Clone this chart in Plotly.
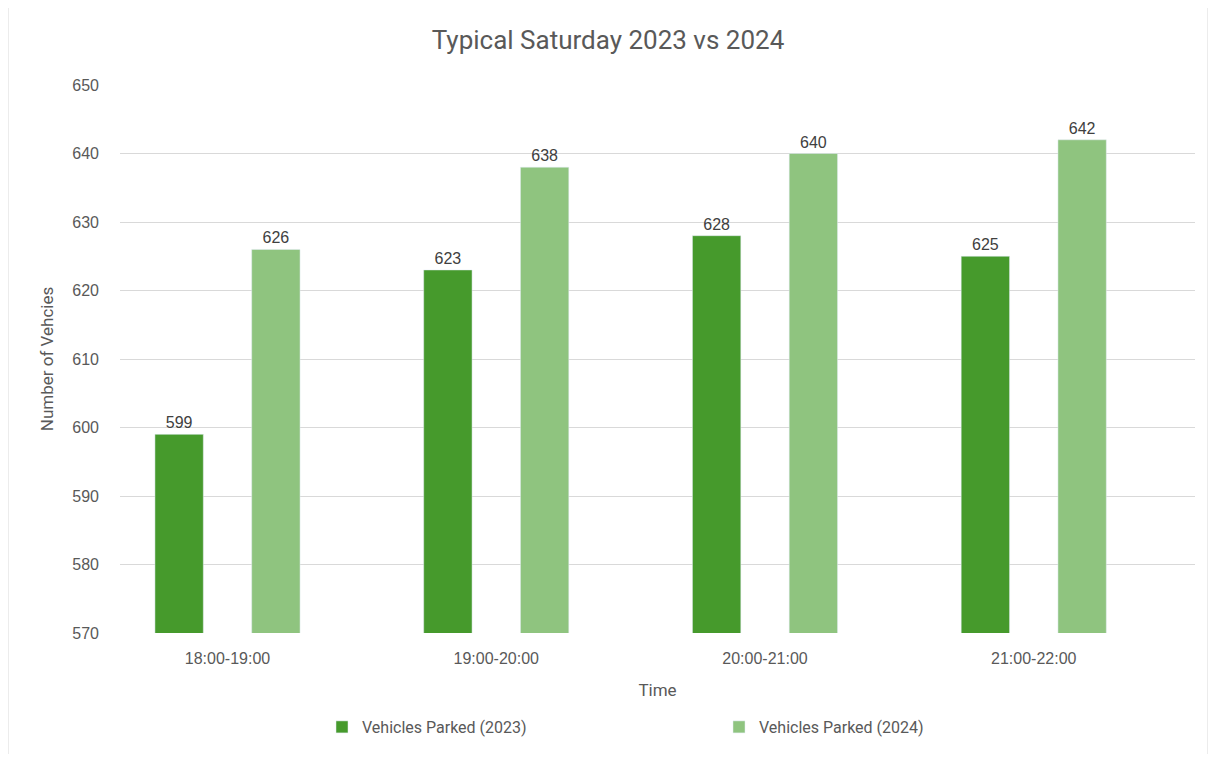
import plotly.graph_objects as go

categories = ["18:00-19:00", "19:00-20:00", "20:00-21:00", "21:00-22:00"]
parked_2023 = [599, 623, 628, 625]
parked_2024 = [626, 638, 640, 642]
y_ticks = [570, 580, 590, 600, 610, 620, 630, 640, 650]

# page body has an 8px margin; compensate so plot area lands at screen 120..1195 x 85..633
W, H = 1200, 746
L, R, T, B = 112, 13, 77, 121
PW, PH = W - L - R, H - T - B
OFF = 8


def px_x(sx):
    return (sx - OFF - L) / PW


def px_y(sy):
    return (H - B - (sy - OFF)) / PH


label_font = dict(family="Liberation Sans, Arial", size=16, color="#404040")

fig = go.Figure()
fig.add_trace(go.Bar(
    x=categories, y=parked_2023, name="Vehicles Parked (2023)",
    marker=dict(color="#469a2c"),
    text=parked_2023, textposition="outside", cliponaxis=False,
    textfont=label_font,
))
fig.add_trace(go.Bar(
    x=categories, y=parked_2024, name="Vehicles Parked (2024)",
    marker=dict(color="#8fc47f"),
    text=parked_2024, textposition="outside", cliponaxis=False,
    textfont=label_font,
))

fig.update_layout(
    width=W, height=H,
    margin=dict(l=L, r=R, t=T, b=B, autoexpand=False),
    paper_bgcolor="white", plot_bgcolor="white",
    barmode="group", bargap=0.28, bargroupgap=0.5,
    title=dict(text="Typical Saturday 2023 vs 2024", x=0.5, xanchor="center",
               y=1 - (40 - OFF) / H, yanchor="middle",
               font=dict(family="Roboto, Arial", size=26, color="#595959")),
    font=dict(family="Liberation Sans, Arial", color="#595959"),
    xaxis=dict(
        range=[-0.40, 3.60], showgrid=False, showline=False, ticks="",
        tickfont=dict(size=16, color="#595959"), ticklabelstandoff=14,
        title=dict(text="Time", font=dict(family="Roboto, Arial", size=17, color="#595959"), standoff=18),
    ),
    yaxis=dict(
        range=[570, 650], tickvals=y_ticks, showgrid=True, gridcolor="#d9d9d9",
        gridwidth=1, showline=False, zeroline=False, ticks="",
        tickfont=dict(size=16, color="#595959"), ticklabelstandoff=20,
        title=dict(text="Number of Vehcies", font=dict(family="Roboto, Arial", size=17, color="#595959"), standoff=14),
    ),
    legend=dict(
        orientation="h", x=px_x(322), xanchor="left",
        y=px_y(727), yanchor="middle",
        entrywidth=352, entrywidthmode="pixels",
        font=dict(family="Roboto, Arial", size=16, color="#595959"),
        itemwidth=30, bgcolor="rgba(0,0,0,0)",
    ),
    shapes=[dict(
        type="rect", xref="paper", yref="paper",
        x0=px_x(8), x1=px_x(1208),
        y0=px_y(757), y1=px_y(5),
        line=dict(color="#d9d9d9", width=1), fillcolor="rgba(0,0,0,0)", layer="below",
    )],
)

fig.write_html("out.html")
